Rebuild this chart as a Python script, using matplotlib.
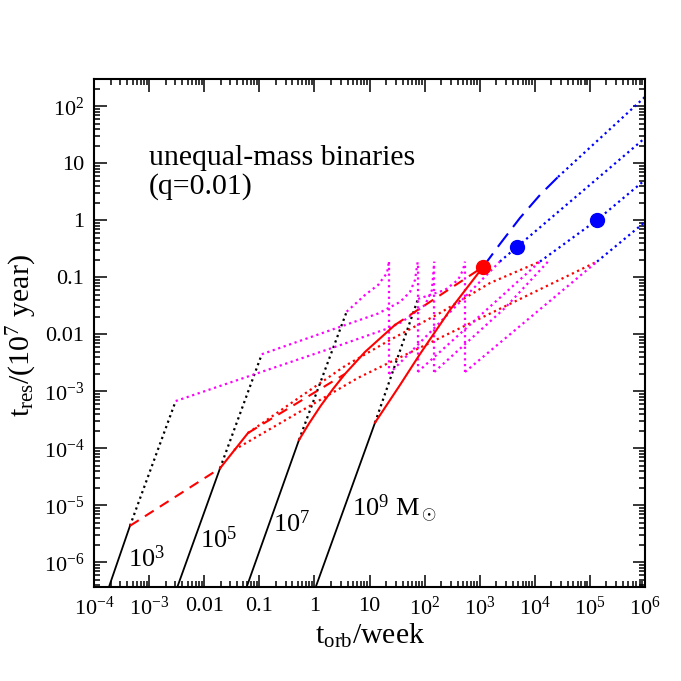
import numpy as np
import matplotlib
matplotlib.use('Agg')
import matplotlib.pyplot as plt
from matplotlib.ticker import FixedLocator, FixedFormatter, LogLocator, NullFormatter

plt.rcParams['font.family'] = ['Liberation Serif', 'DejaVu Serif']
plt.rcParams['mathtext.fontset'] = 'custom'
plt.rcParams['mathtext.rm'] = 'Liberation Serif'
plt.rcParams['mathtext.it'] = 'Liberation Serif:italic'
plt.rcParams['mathtext.bf'] = 'Liberation Serif:bold'

# ---------------- data ----------------
mass_labels = [r'$10^3$', r'$10^5$', r'$10^7$', r'$10^9$ M$_\odot$']

# GW-driven (black solid) and its extension (black dotted)
gw_solid_x = [[1.77e-4, 4.5e-4], [3.08e-3, 0.0194], [0.0558, 0.525], [1.0, 12.6]]
gw_solid_y = [[3.2e-7, 4.4e-6], [3.2e-7, 4.5e-5], [3.2e-7, 1.41e-4], [3.2e-7, 2.84e-4]]
gw_dot_x = [[4.5e-4, 3.04e-3], [0.0194, 0.111], [0.525, 3.85], [12.6, 75.9]]
gw_dot_y = [[4.4e-6, 6.8e-4], [4.5e-5, 4.5e-3], [1.41e-4, 0.0251], [2.84e-4, 0.042]]

# gas-driven (red solid / dashed)
gas_solid_x = [[0.0194, 0.0624],
               [0.525, 0.80, 1.30, 2.20, 3.59, 8.28, 29.0],
               [12.6, 35.8, 82.6, 289, 1150]]
gas_solid_y = [[4.5e-5, 1.87e-4],
               [1.41e-4, 2.75e-4, 5.6e-4, 1.12e-3, 2.03e-3, 4.93e-3, 0.0147],
               [2.84e-4, 1.30e-3, 4.55e-3, 0.0269, 0.153]]
gas_dash_x = [[4.5e-4, 0.0194], [0.0624, 3.59], [29.0, 1150]]
gas_dash_y = [[4.4e-6, 4.5e-5], [1.87e-4, 2.03e-3], [0.0147, 0.153]]

# red dotted
rdot_x = [[0.0347, 6.18, 289, 1.35e5], [0.0624, 0.548, 3.59, 23.5, 190, 1540, 12400]]
rdot_y = [[9.4e-5, 1.73e-3, 0.0106, 0.19], [1.87e-4, 8.0e-4, 2.8e-3, 8.0e-3, 0.0238, 0.080, 0.19]]

# magenta dotted, before the spikes
mag_x = [[3.04e-3, 2.37, 22.6, 38.9, 102, 136, 150],
         [0.111, 2.37, 14.3, 35.8, 54.3, 67.0, 75.0],
         [3.85, 8.28, 14.3, 20.8, 22.6],
         [75.9, 234, 404, 498, 541]]
mag_y = [[6.8e-4, 6.04e-3, 0.0130, 0.0166, 0.0330, 0.0604, 0.19],
         [4.5e-3, 0.01268, 0.0233, 0.0372, 0.0557, 0.0904, 0.19],
         [0.0251, 0.0493, 0.0738, 0.12, 0.19],
         [0.042, 0.0604, 0.0904, 0.1355, 0.19]]

# vertical spikes
spike_x = [22.6, 75.0, 150, 541]
spike_lo = [2.03e-3, 2.2e-3, 2.2e-3, 2.2e-3]
spike_hi = [0.19, 0.19, 0.19, 0.19]

# magenta dotted, after the spikes
post_x = [[22.6, 2320], [75.0, 12400], [150, 2880, 17400], [541, 1.35e5]]
post_y = [[2.03e-3, 0.19], [2.2e-3, 0.19], [2.2e-3, 0.0292, 0.19], [2.2e-3, 0.19]]

# blue
blue_dash_x = [1150, 2335, 5380, 12400, 26400]
blue_dash_y = [0.153, 0.387, 1.107, 2.80, 5.80]
blue_dot_x = [[26400, 1e6], [2320, 4750, 1e6], [12400, 1.35e5, 1e6], [1.35e5, 1e6]]
blue_dot_y = [[5.80, 147], [0.19, 0.343, 28.0], [0.19, 1.02, 5.14], [0.19, 0.94]]

red_pt_x, red_pt_y = [1150], [0.153]
blue_pt_x, blue_pt_y = [4750, 1.35e5], [0.343, 1.02]

xticks = [1e-4, 1e-3, 1e-2, 1e-1, 1, 10, 1e2, 1e3, 1e4, 1e5, 1e6]
xticklabels = [r'$10^{-4}$', r'$10^{-3}$', '0.01', '0.1', '1', '10',
               r'$10^{2}$', r'$10^{3}$', r'$10^{4}$', r'$10^{5}$', r'$10^{6}$']
yticks = [1e-6, 1e-5, 1e-4, 1e-3, 1e-2, 1e-1, 1, 10, 1e2]
yticklabels = [r'$10^{-6}$', r'$10^{-5}$', r'$10^{-4}$', r'$10^{-3}$', '0.01', '0.1',
               '1', '10', r'$10^{2}$']

# ---------------- plot ----------------
fig = plt.figure(figsize=(6.81, 6.81), dpi=100)
ax = fig.add_axes([94/681, (681-587.3)/681, 551/681, 508.3/681])
ax.set_xscale('log')
ax.set_yscale('log')

dot = (0, (1, 1.6))
lw_dot = 1.6
for x, y in zip(gw_solid_x, gw_solid_y):
    ax.plot(x, y, color='black', lw=1.3)
for x, y in zip(gw_dot_x, gw_dot_y):
    ax.plot(x, y, color='black', lw=lw_dot, linestyle=dot)
for x, y in zip(rdot_x, rdot_y):
    ax.plot(x, y, color='red', lw=lw_dot, linestyle=dot)
for x, y in zip(mag_x, mag_y):
    ax.plot(x, y, color='magenta', lw=lw_dot, linestyle=dot)
for x, lo, hi in zip(spike_x, spike_lo, spike_hi):
    ax.plot([x, x], [lo, hi], color='magenta', lw=lw_dot, linestyle=dot)
for x, y in zip(post_x, post_y):
    ax.plot(x, y, color='magenta', lw=lw_dot, linestyle=dot)
for x, y in zip(gas_dash_x, gas_dash_y):
    ax.plot(x, y, color='red', lw=1.5, linestyle=(0, (5, 3.5)))
for x, y in zip(gas_solid_x, gas_solid_y):
    ax.plot(x, y, color='red', lw=1.5)
ax.plot(blue_dash_x, blue_dash_y, color='blue', lw=1.5, linestyle=(0, (8, 4)))
for x, y in zip(blue_dot_x, blue_dot_y):
    ax.plot(x, y, color='blue', lw=lw_dot, linestyle=dot)
ax.plot(red_pt_x, red_pt_y, 'o', color='red', ms=10, zorder=5)
ax.plot(blue_pt_x, blue_pt_y, 'o', color='blue', ms=10, zorder=5)

ax.set_xlim(1e-4, 1e6)
ax.set_ylim(3.67e-7, 303)

ax.xaxis.set_major_locator(FixedLocator(xticks))
ax.xaxis.set_major_formatter(FixedFormatter(xticklabels))
ax.yaxis.set_major_locator(FixedLocator(yticks))
ax.yaxis.set_major_formatter(FixedFormatter(yticklabels))
ax.xaxis.set_minor_locator(LogLocator(base=10, subs=np.arange(2, 10), numticks=200))
ax.yaxis.set_minor_locator(LogLocator(base=10, subs=np.arange(2, 10), numticks=200))
ax.xaxis.set_minor_formatter(NullFormatter())
ax.yaxis.set_minor_formatter(NullFormatter())
ax.tick_params(which='both', direction='in', top=True, right=True, width=1.1)
ax.tick_params(which='major', length=9, labelsize=16, pad=7)
ax.tick_params(which='minor', length=4.5)
for s in ax.spines.values():
    s.set_linewidth(1.5)

pos = [(0.062, 0.040), (0.192, 0.077), (0.325, 0.109), (0.468, 0.139)]
for (fx, fy), lab in zip(pos, mass_labels):
    ax.text(fx, fy, lab, transform=ax.transAxes, fontsize=19, ha='left', va='baseline')

ax.text(0.100, 0.845, 'unequal-mass binaries', transform=ax.transAxes, fontsize=21.5,
        ha='left', va='center')
ax.text(0.100, 0.789, '(q=0.01)', transform=ax.transAxes, fontsize=21.5,
        ha='left', va='center')

fig.text(0.543, 0.066, r'$\mathrm{t_{orb}}$/week', fontsize=21.5, ha='center', va='center')
fig.text(0.032, 0.507, r'$\mathrm{t_{res}}$/(10$^7$ year)', fontsize=21.5, ha='center',
         va='center', rotation=90)

fig.savefig('out.png', dpi=100)
